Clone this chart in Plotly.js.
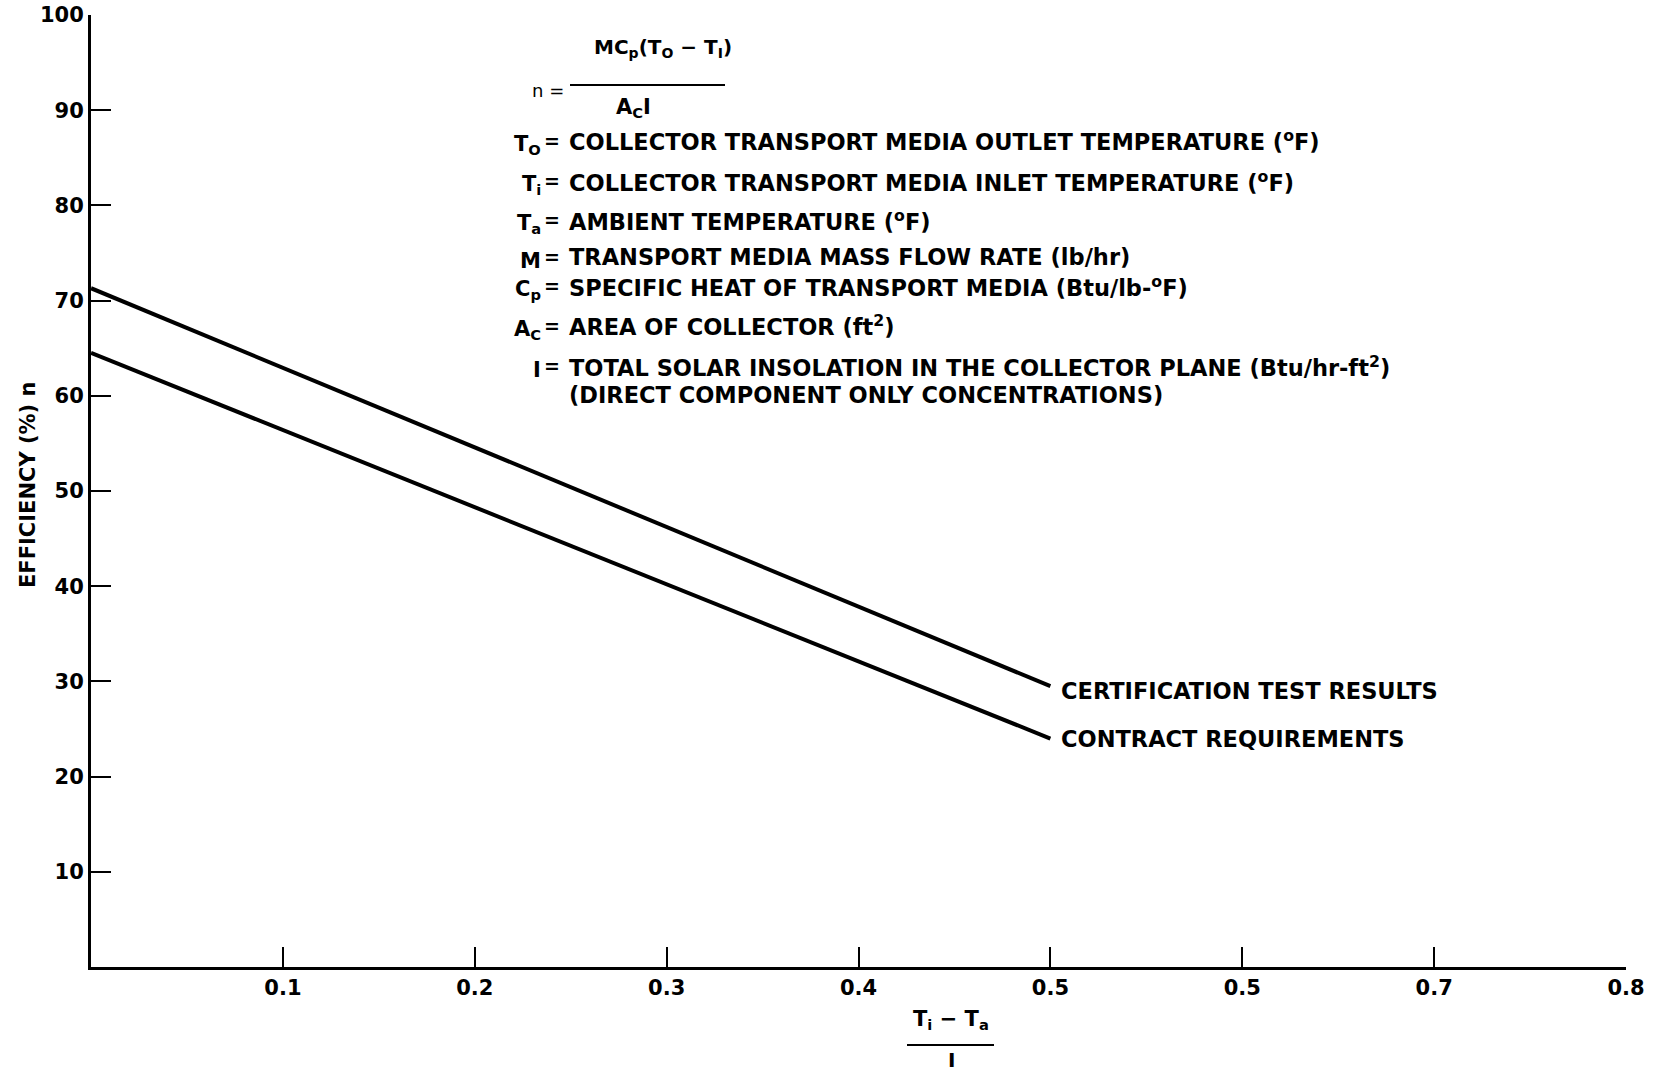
<!DOCTYPE html>
<html>
<head>
<meta charset="utf-8">
<script src="https://cdn.plot.ly/plotly-3.0.1.min.js"></script>
<style>html,body{margin:0;padding:0;background:#fff;}#chart{width:1663px;height:1075px;}</style>
</head>
<body>
<div id="chart"></div>
<script>
// ---- data ----
const xValues = [0, 0.5];
const certificationTest = [71.3, 29.5];
const contractReq = [64.5, 24.0];
const seriesNames = ["CERTIFICATION TEST RESULTS", "CONTRACT REQUIREMENTS"];
const xTickVals = [0.1, 0.2, 0.3, 0.4, 0.5, 0.6, 0.7, 0.8];
const xTickText = ["0.1", "0.2", "0.3", "0.4", "0.5", "0.5", "0.7", "0.8"];
const yTickVals = [10, 20, 30, 40, 50, 60, 70, 80, 90, 100];
const yTickText = ["10", "20", "30", "40", "50", "60", "70", "80", "90", "100"];

const defSymbols = ["T<sub>O</sub>", "T<sub>i</sub>", "T<sub>a</sub>", "M", "C<sub>p</sub>", "A<sub>C</sub>", "I", ""];
const defTexts = [
  "COLLECTOR TRANSPORT MEDIA OUTLET TEMPERATURE (<sup>o</sup>F)",
  "COLLECTOR TRANSPORT MEDIA INLET TEMPERATURE (<sup>o</sup>F)",
  "AMBIENT TEMPERATURE (<sup>o</sup>F)",
  "TRANSPORT MEDIA MASS FLOW RATE (lb/hr)",
  "SPECIFIC HEAT OF TRANSPORT MEDIA (Btu/lb-<sup>o</sup>F)",
  "AREA OF COLLECTOR (ft<sup>2</sup>)",
  "TOTAL SOLAR INSOLATION IN THE COLLECTOR PLANE (Btu/hr-ft<sup>2</sup>)",
  "(DIRECT COMPONENT ONLY CONCENTRATIONS)"
];

// ---- styling ----
const FONT = "DejaVu Sans, Liberation Sans, Arial, sans-serif";
const boldFont = (size) => ({family: FONT, size: size, color: "#000", weight: "bold"});

// layout helpers: pixel -> paper
const L = 91, R = 37, T = 15, B = 108, W = 1663, H = 1075;
const pw = W - L - R, ph = H - T - B;
const px = (X) => (X - L) / pw;
const py = (Y) => (H - B - Y) / ph;

const traces = [
  {x: xValues, y: certificationTest, name: seriesNames[0], mode: "lines",
   line: {color: "#000", width: 4}, showlegend: false, hoverinfo: "skip"},
  {x: xValues, y: contractReq, name: seriesNames[1], mode: "lines",
   line: {color: "#000", width: 4}, showlegend: false, hoverinfo: "skip"}
];

const annotations = [];
// series labels at line ends
[certificationTest, contractReq].forEach((vals, i) => {
  annotations.push({
    x: xValues[xValues.length - 1], y: vals[vals.length - 1], xref: "x", yref: "y",
    text: seriesNames[i], showarrow: false, xanchor: "left", yanchor: "middle",
    xshift: 9, yshift: i === 0 ? -5 : 0, font: boldFont(22.5)
  });
});

// formula
annotations.push({x: px(663), y: py(48), xref: "paper", yref: "paper",
  text: "MC<sub>p</sub>(T<sub>O</sub> − T<sub>I</sub>)", showarrow: false,
  xanchor: "center", yanchor: "middle", font: boldFont(20)});
annotations.push({x: px(566), y: py(90), xref: "paper", yref: "paper",
  text: "n =", showarrow: false, xanchor: "right", yanchor: "middle", font: {family: FONT, size: 18, color: "#000"}});
annotations.push({x: px(633), y: py(108), xref: "paper", yref: "paper",
  text: "A<sub>C</sub>I", showarrow: false, xanchor: "center", yanchor: "middle", font: boldFont(21)});

// definitions
const defY = [141, 181, 220, 257, 286, 326, 366, 395];
defY.forEach((Y, i) => {
  if (defSymbols[i]) {
    annotations.push({x: px(543), y: py(Y + 4), xref: "paper", yref: "paper",
      text: defSymbols[i], showarrow: false, xanchor: "right", yanchor: "middle", font: boldFont(21)});
    annotations.push({x: px(552), y: py(Y), xref: "paper", yref: "paper",
      text: "=", showarrow: false, xanchor: "center", yanchor: "middle", font: boldFont(19)});
  }
  annotations.push({x: px(567), y: py(Y), xref: "paper", yref: "paper",
    text: defTexts[i], showarrow: false, xanchor: "left", yanchor: "middle", font: boldFont(22.5)});
});

// y axis title
annotations.push({x: px(28), y: py(485), xref: "paper", yref: "paper",
  text: "EFFICIENCY (%) n", textangle: -90, showarrow: false,
  xanchor: "center", yanchor: "middle", font: boldFont(21)});

// x axis title (fraction)
annotations.push({x: px(951), y: py(1020), xref: "paper", yref: "paper",
  text: "T<sub>i</sub> − T<sub>a</sub>", showarrow: false, xanchor: "center", yanchor: "middle", font: boldFont(21)});
annotations.push({x: px(951), y: py(1060), xref: "paper", yref: "paper",
  text: "I", showarrow: false, xanchor: "center", yanchor: "middle", font: boldFont(20)});

const shapes = [
  {type: "line", xref: "paper", yref: "paper", x0: px(570), x1: px(725), y0: py(85), y1: py(85),
   line: {color: "#000", width: 2}},
  {type: "line", xref: "paper", yref: "paper", x0: px(907), x1: px(994), y0: py(1045), y1: py(1045),
   line: {color: "#000", width: 2}}
];

const axisCommon = {
  showline: true, linecolor: "#000", linewidth: 3, mirror: false,
  ticks: "inside", ticklen: 20, tickwidth: 2, tickcolor: "#000",
  showgrid: false, zeroline: false, tickfont: boldFont(21), fixedrange: true
};

const layout = {
  width: W, height: H,
  margin: {l: L, r: R, t: T, b: B, pad: 0},
  paper_bgcolor: "#fff", plot_bgcolor: "#fff",
  xaxis: Object.assign({}, axisCommon, {range: [0, 0.8], tickmode: "array", tickvals: xTickVals, ticktext: xTickText}),
  yaxis: Object.assign({}, axisCommon, {range: [0, 100], tickmode: "array", tickvals: yTickVals, ticktext: yTickText}),
  annotations: annotations,
  shapes: shapes,
  showlegend: false
};

Plotly.newPlot("chart", traces, layout, {staticPlot: true, displayModeBar: false});
</script>
</body>
</html>
